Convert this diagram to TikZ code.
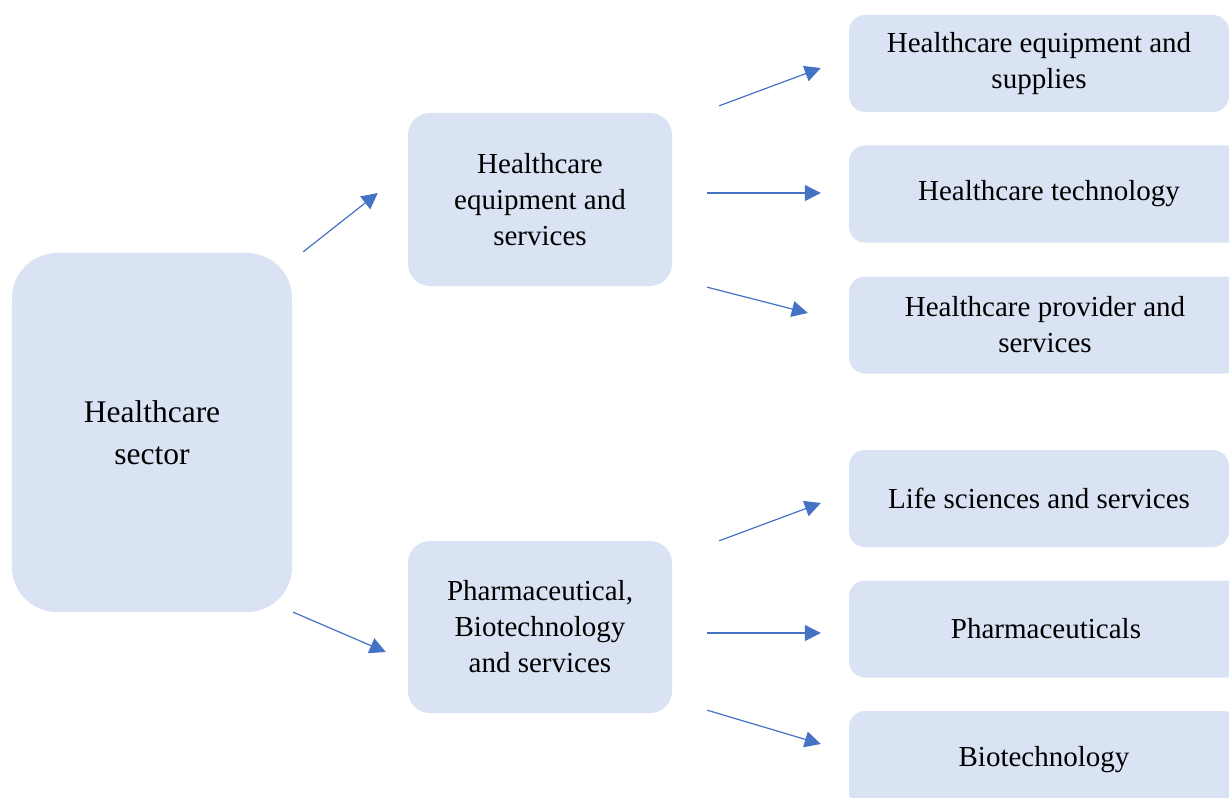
\documentclass[tikz,border=0pt]{standalone}
\usepackage{fontspec}
\setmainfont{Liberation Serif}
\usetikzlibrary{arrows.meta}
\definecolor{boxfill}{HTML}{DAE3F3}
\definecolor{arrowblue}{HTML}{4472C4}
\begin{document}
\begin{tikzpicture}[x=1bp,y=-1bp,
  box/.style={fill=boxfill,draw=none,rounded corners=22bp,align=center,
    inner sep=0pt,font=\fontsize{29bp}{36bp}\selectfont},
  bigbox/.style={box,rounded corners=45bp,font=\fontsize{31.5bp}{42bp}\selectfont},
  sidebox/.style={box,rounded corners=16bp,minimum height=97bp},
  link/.style={draw=arrowblue,line width=1.2bp,-{Triangle[length=16bp,width=16bp]}}]
\useasboundingbox (0,0) rectangle (1229,798);
\clip (0,0) rectangle (1229,798);

% main sector
\node[bigbox,minimum width=280bp,minimum height=359bp] (sector) at (152,432.5) {Healthcare\\sector};

% the two sub-sectors
\node[box,minimum width=264bp,minimum height=173bp] (equip) at (540,199.5) {Healthcare\\equipment and\\services};
\node[box,minimum width=264bp,minimum height=172bp] (pharma) at (540,627) {Pharmaceutical,\\Biotechnology\\and services};

% industries, running off the right edge
\node[sidebox,minimum width=380bp] (r1) at (1039,63.5) {Healthcare equipment and\\supplies};
\node[sidebox,minimum width=400bp] (r2) at (1049,194) {Healthcare technology};
\node[sidebox,minimum width=392bp] (r3) at (1045,325) {Healthcare provider and\\services};
\node[sidebox,minimum width=380bp] (r4) at (1039,498.5) {Life sciences and services};
\node[sidebox,minimum width=394bp] (r5) at (1046,629) {Pharmaceuticals};
\node[sidebox,minimum width=390bp] (r6) at (1044,759.5) {Biotechnology};

% connectors
\draw[link] ([shift={(11,-1)}]sector.north east) -- ([shift={(-30,-6.5)}]equip.west);
\draw[link] ([shift={(1,0)}]sector.south east) -- ([shift={(-22,25)}]pharma.west);

\draw[link] ([shift={(47,-7)}]equip.north east) -- ([shift={(-28,4.5)}]r1.west);
\draw[link] ([shift={(35,-6.5)}]equip.east) -- ([shift={(-28,-1)}]r2.west);
\draw[link] ([shift={(35,1)}]equip.south east) -- ([shift={(-41,-12)}]r3.west);

\draw[link] ([shift={(47,0)}]pharma.north east) -- ([shift={(-28,4.5)}]r4.west);
\draw[link] ([shift={(35,6)}]pharma.east) -- ([shift={(-28,4)}]r5.west);
\draw[link] ([shift={(35,-3)}]pharma.south east) -- ([shift={(-28,-15.5)}]r6.west);
\end{tikzpicture}
\end{document}
